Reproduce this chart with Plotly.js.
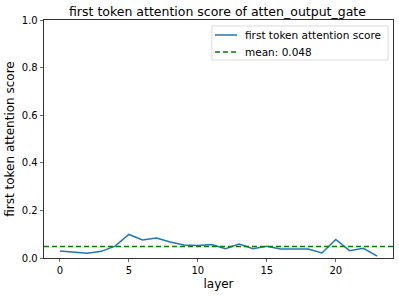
<!DOCTYPE html>
<html><head><meta charset="utf-8">
<script src="https://cdn.plot.ly/plotly-3.0.1.min.js"></script>
<style>body{margin:0;padding:0;}#c{width:399px;height:296px;}</style>
</head><body><div id="c"></div>
<script>
const layers = [0,1,2,3,4,5,6,7,8,9,10,11,12,13,14,15,16,17,18,19,20,21,22,23];
const scores = [0.029,0.024,0.020,0.028,0.050,0.099,0.076,0.084,0.067,0.055,0.052,0.057,0.039,0.059,0.039,0.049,0.038,0.038,0.038,0.021,0.078,0.031,0.041,0.008];
const meanValue = 0.048;
const seriesLabel = "first token attention score";
const meanLabel = "mean: 0.048";
const xRange = [-1.15, 24.15];
const blue = '#1f77b4', green = '#008000';

const traces = [
  {x: layers, y: scores, type: 'scatter', mode: 'lines', name: seriesLabel,
   line: {color: blue, width: 1.5}, showlegend: false},
  {x: xRange, y: [meanValue, meanValue], type: 'scatter', mode: 'lines', name: meanLabel,
   line: {color: green, width: 1.5, dash: '5px,3px'}, showlegend: false}
];
const lf = {family: 'DejaVu Sans', size: 10.5, color: '#000'};
const layout = {
  width: 399, height: 296,
  margin: {l: 44, r: 6, t: 20, b: 38},
  paper_bgcolor: '#fff', plot_bgcolor: '#fff',
  font: {family: 'DejaVu Sans', color: '#000'},
  title: {text: 'first token attention score of atten_output_gate', font: {family: 'DejaVu Sans', size: 12.5, color: '#000'}, x: 0.545, xanchor: 'center', y: 0.96, yanchor: 'middle'},
  xaxis: {range: xRange, tickvals: [0,5,10,15,20], ticks: 'outside', ticklen: 3.5, tickwidth: 0.8,
    showgrid: false, zeroline: false, showline: true, mirror: true, linecolor: '#000', linewidth: 0.8,
    tickfont: {family: 'DejaVu Sans', size: 10, color: '#000'},
    title: {text: 'layer', font: {family: 'DejaVu Sans', size: 12, color: '#000'}, standoff: 4}},
  yaxis: {range: [0, 1], tickvals: [0,0.2,0.4,0.6,0.8,1.0], ticktext: ['0.0','0.2','0.4','0.6','0.8','1.0'],
    ticks: 'outside', ticklen: 3.5, tickwidth: 0.8,
    showgrid: false, zeroline: false, showline: true, mirror: true, linecolor: '#000', linewidth: 0.8,
    tickfont: {family: 'DejaVu Sans', size: 10, color: '#000'},
    title: {text: 'first token attention score', font: {family: 'DejaVu Sans', size: 12, color: '#000'}, standoff: 4}},
  showlegend: false,
  shapes: [
    {type: 'rect', xref: 'paper', yref: 'paper', x0: 0.481, x1: 0.986, y0: 0.832, y1: 0.975,
     line: {color: '#d0d0d0', width: 0.8}, fillcolor: 'rgba(255,255,255,0.8)', layer: 'above'},
    {type: 'line', xref: 'paper', yref: 'paper', x0: 0.490, x1: 0.553, y0: 0.937, y1: 0.937,
     line: {color: blue, width: 1.5}},
    {type: 'line', xref: 'paper', yref: 'paper', x0: 0.490, x1: 0.553, y0: 0.866, y1: 0.866,
     line: {color: green, width: 1.5, dash: '5px,3px'}}
  ],
  annotations: [
    {xref: 'paper', yref: 'paper', x: 0.5702, y: 0.937, xanchor: 'left', yanchor: 'middle', text: seriesLabel, showarrow: false, font: lf},
    {xref: 'paper', yref: 'paper', x: 0.5702, y: 0.866, xanchor: 'left', yanchor: 'middle', text: meanLabel, showarrow: false, font: lf}
  ]
};
Plotly.newPlot('c', traces, layout, {displayModeBar: false, staticPlot: true});
</script></body></html>
